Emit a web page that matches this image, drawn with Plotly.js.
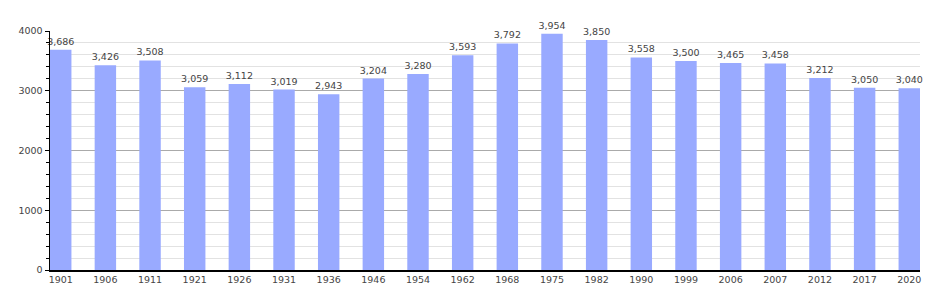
<!DOCTYPE html>
<html>
<head>
<meta charset="utf-8">
<script src="https://cdn.plot.ly/plotly-3.0.1.min.js"></script>
<style>html,body{margin:0;padding:0;background:#fff;}#chart{width:950px;height:300px;}</style>
</head>
<body>
<div id="chart"></div>
<script>
var years = ["1901","1906","1911","1921","1926","1931","1936","1946","1954","1962","1968","1975","1982","1990","1999","2006","2007","2012","2017","2020"];
var population = [3686,3426,3508,3059,3112,3019,2943,3204,3280,3593,3792,3954,3850,3558,3500,3465,3458,3212,3050,3040];
var yTicks = [0,1000,2000,3000,4000];

var trace = {
  type: 'bar',
  x: years,
  y: population,
  width: 0.48,
  marker: {color: '#99aaff', line: {width: 0}},
  texttemplate: '%{y:,}',
  textposition: 'outside',
  constraintext: 'none',
  cliponaxis: false,
  textfont: {family: 'DejaVu Sans, Verdana, sans-serif', size: 9.5, color: '#444'},
  hoverinfo: 'x+y'
};

var layout = {
  width: 950, height: 300,
  margin: {l: 50, r: 30, t: 31, b: 30, pad: 0},
  paper_bgcolor: '#fff', plot_bgcolor: '#fff',
  showlegend: false,
  font: {family: 'DejaVu Sans, Verdana, sans-serif', size: 9.5, color: '#444'},
  xaxis: {
    type: 'category',
    range: [-0.24, 19.24],
    showline: true, linecolor: '#000', linewidth: 1.5,
    showgrid: false, ticks: '', ticklen: 0,
    tickfont: {size: 9.5, color: '#444'},
    zeroline: false
  },
  yaxis: {
    range: [0, 4000],
    tickvals: yTicks,
    ticktext: yTicks.map(String),
    showline: true, linecolor: '#000', linewidth: 1.5,
    showgrid: true, gridcolor: '#aaaaaa', gridwidth: 1,
    ticks: 'outside', ticklen: 4, tickcolor: '#000',
    tickfont: {size: 9.5, color: '#444'},
    zeroline: false,
    minor: {dtick: 200, showgrid: true, gridcolor: '#e2e2e2', gridwidth: 1, ticks: 'outside', ticklen: 3, tickcolor: '#000'}
  },
  bargap: 0.52
};

Plotly.newPlot('chart', [trace], layout, {displayModeBar: false, staticPlot: true});
</script>
</body>
</html>
